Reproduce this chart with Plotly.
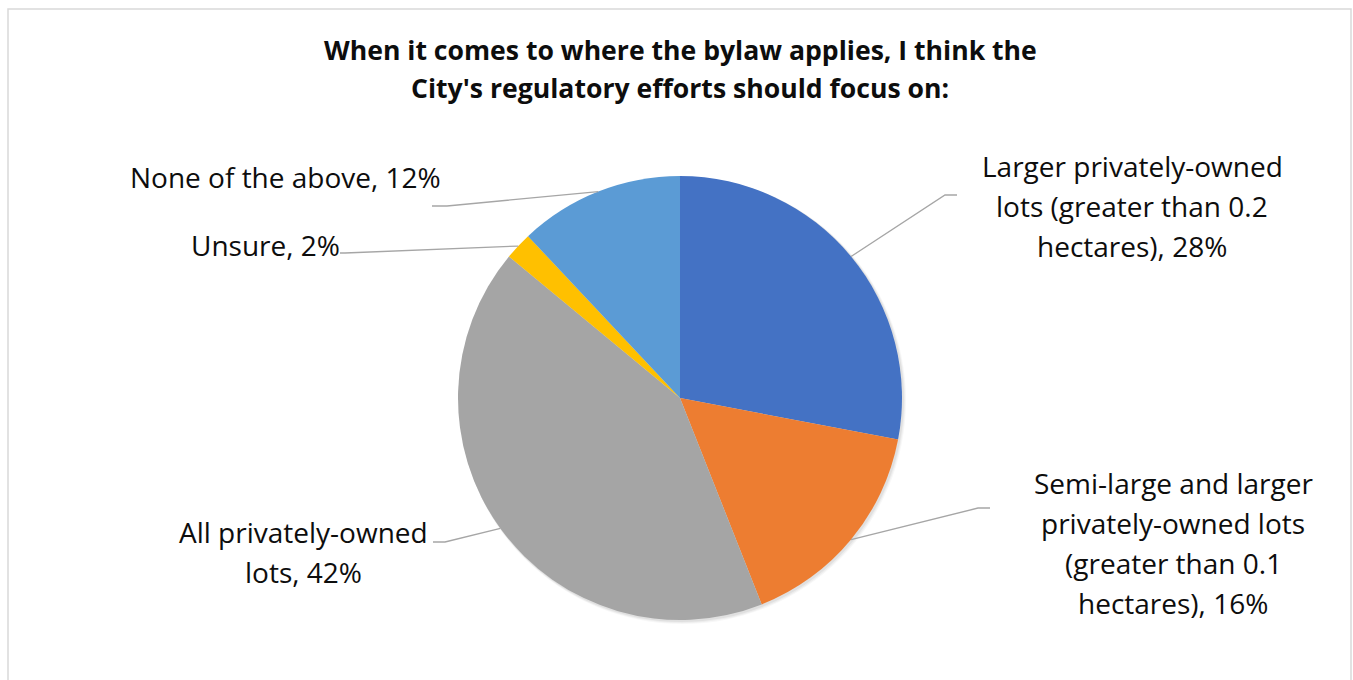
import math
import plotly.graph_objects as go

W, H = 1353, 680

title_lines = ["When it comes to where the bylaw applies, I think the",
               "City's regulatory efforts should focus on:"]
categories = ["Larger privately-owned lots (greater than 0.2 hectares)",
              "Semi-large and larger privately-owned lots (greater than 0.1 hectares)",
              "All privately-owned lots",
              "Unsure",
              "None of the above"]
label_lines = [["Larger privately-owned", "lots (greater than 0.2", "hectares), 28%"],
               ["Semi-large and larger", "privately-owned lots", "(greater than 0.1", "hectares), 16%"],
               ["All privately-owned", "lots, 42%"],
               ["Unsure, 2%"],
               ["None of the above, 12%"]]
values = [28, 16, 42, 2, 12]
colors = ["#4472C4", "#ED7D31", "#A5A5A5", "#FFC000", "#5B9BD5"]

# layout (pixels)
CX, CY, R = 680, 398, 222
label_first_line = [(1132, 166), (1173, 483), (303, 532), (265, 245), (285, 177)]
LINE_GAP = 40
elbows = [((945, 195), (957, 195)),
          ((978, 508), (990, 508)),
          ((445, 542), (433, 542)),
          ((345, 253), (340, 253)),
          ((447, 206), (432, 206))]

FONT = "Open Sans"
LABEL_SIZE = 28
TITLE_SIZE = 26.6


def px(x):
    return x / W


def py(y):
    return 1 - y / H


fig = go.Figure()
fig.add_trace(go.Pie(
    labels=categories, values=values, sort=False, direction="clockwise",
    rotation=0, marker=dict(colors=colors, line=dict(width=0)),
    textinfo="none", hoverinfo="label+percent", showlegend=False,
    domain=dict(x=[px(CX - R), px(CX + R)], y=[py(CY + R), py(CY - R)]),
))

shapes = []
# frame
shapes.append(dict(type="rect", xref="paper", yref="paper",
                   x0=px(8), x1=px(1351), y0=py(700), y1=py(9),
                   line=dict(color="#D9D9D9", width=1.5), fillcolor="rgba(0,0,0,0)"))
# soft shadow
for k, a in [(4, 0.03), (3, 0.04), (2, 0.05)]:
    shapes.append(dict(type="circle", xref="paper", yref="paper", layer="below",
                       x0=px(CX - R + 1), x1=px(CX + R + k), y0=py(CY + R + k), y1=py(CY - R + 1),
                       line=dict(width=0), fillcolor=f"rgba(0,0,0,{a})"))

total = sum(values)
cum = 0
annotations = []
for i, v in enumerate(values):
    mid = (cum + v / 2) / total * 2 * math.pi
    cum += v
    ex = CX + R * math.sin(mid)
    ey = CY - R * math.cos(mid)
    (bx, by), (tx, ty) = elbows[i]
    path = f"M {px(ex)},{py(ey)} L {px(bx)},{py(by)} L {px(tx)},{py(ty)}"
    shapes.append(dict(type="path", xref="paper", yref="paper", path=path,
                       line=dict(color="#A6A6A6", width=1.3)))
    lx, ly = label_first_line[i]
    for j, line in enumerate(label_lines[i]):
        annotations.append(dict(text=line, x=px(lx), y=py(ly + j * LINE_GAP),
                                xref="paper", yref="paper",
                                xanchor="center", yanchor="middle", showarrow=False,
                                font=dict(family=FONT, size=LABEL_SIZE, color="#0D0D0D")))

for j, line in enumerate(title_lines):
    annotations.append(dict(text="<b>" + line + "</b>", x=px(680), y=py(50 + j * 38),
                            xref="paper", yref="paper", xanchor="center", yanchor="middle",
                            showarrow=False,
                            font=dict(family=FONT, size=TITLE_SIZE, color="#0D0D0D")))

fig.update_layout(width=W, height=H, margin=dict(l=0, r=0, t=0, b=0),
                  paper_bgcolor="white", plot_bgcolor="white",
                  shapes=shapes, annotations=annotations)
fig.write_html("out.html", config={"displayModeBar": False},
               post_script="document.body.style.margin='0';")
